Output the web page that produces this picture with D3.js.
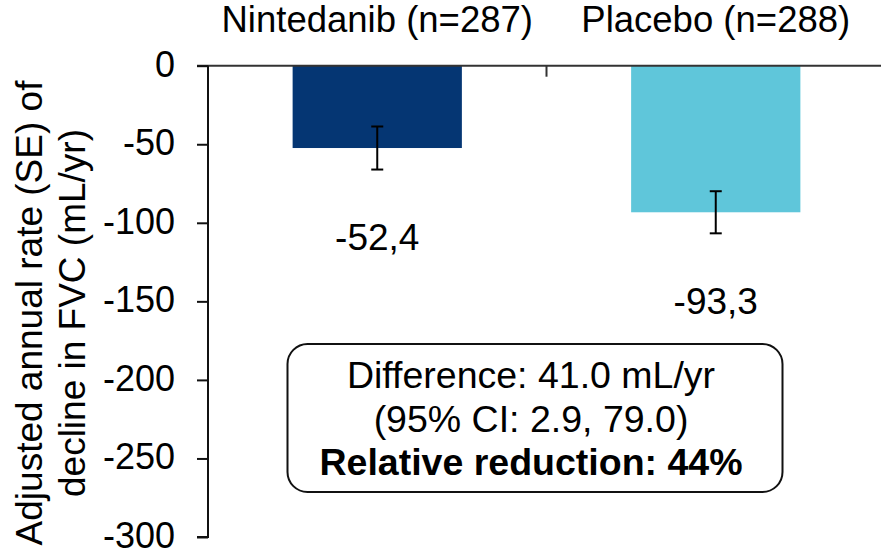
<!DOCTYPE html>
<html>
<head>
<meta charset="utf-8">
<script src="https://cdn.jsdelivr.net/npm/d3@7/dist/d3.min.js"></script>
<style>
  html, body { margin: 0; padding: 0; background: #fff; }
  svg { display: block; font-family: "Liberation Sans", Arial, sans-serif; }
</style>
</head>
<body>
<svg id="chart" width="881" height="553"></svg>
<script>
// Treatment groups and the adjusted annual rate of FVC decline (mL/yr)
const categories = ["Nintedanib (n=287)", "Placebo (n=288)"];
const rates = [-52.4, -93.3];
const standardErrors = [13.7, 13.4];
const rateLabels = ["-52,4", "-93,3"];
const barColors = ["#053673", "#5fc6da"];

// Y axis ticks
const yTicks = [0, -50, -100, -150, -200, -250, -300];
const yTitleLines = ["Adjusted annual rate (SE) of", "decline in FVC (mL/yr)"];

// Summary box text
const noteLines = ["Difference: 41.0 mL/yr", "(95% CI: 2.9, 79.0)", "Relative reduction: 44%"];

const svg = d3.select("#chart");

const x = d3.scaleBand()
  .domain(categories)
  .range([208, 885])
  .paddingInner(0.5)
  .paddingOuter(0.25);

const y = d3.scaleLinear()
  .domain([-300, 0])
  .range([537, 65.7]);

const data = categories.map((c, i) => ({
  cat: c, value: rates[i], se: standardErrors[i], label: rateLabels[i], color: barColors[i]
}));

// Bars hang down from zero
svg.append("g").selectAll("rect")
  .data(data)
  .join("rect")
  .attr("x", d => x(d.cat))
  .attr("width", x.bandwidth())
  .attr("y", y(0))
  .attr("height", d => y(d.value) - y(0))
  .attr("fill", d => d.color);

// Zero baseline running across the plot
svg.append("line")
  .attr("x1", 197).attr("x2", 881)
  .attr("y1", y(0)).attr("y2", y(0))
  .attr("stroke", "#333").attr("stroke-width", 2);

// Category divider tick on the baseline
const gap = x.step() - x.bandwidth();
svg.append("g").selectAll("line")
  .data(categories.slice(1))
  .join("line")
  .attr("x1", d => x(d) - gap / 2)
  .attr("x2", d => x(d) - gap / 2)
  .attr("y1", y(0)).attr("y2", y(0) + 11)
  .attr("stroke", "#333").attr("stroke-width", 2);

// Y axis
const yAxis = svg.append("g")
  .attr("transform", "translate(208,0)")
  .call(d3.axisLeft(y).tickValues(yTicks).tickSize(11).tickPadding(22).tickFormat(d3.format("d")));
yAxis.select(".domain").attr("stroke", "#111").attr("stroke-width", 2).attr("d", `M-11,${y(-300)}H0V${y(0)}`);
yAxis.selectAll(".tick line").attr("stroke", "#111").attr("stroke-width", 2);
yAxis.selectAll(".tick text")
  .attr("font-size", 36)
  .attr("dy", "0.29em")
  .attr("fill", "#000")
  .attr("font-family", "Liberation Sans, Arial, sans-serif")
  .text(d => d === 0 ? "0" : "-" + Math.abs(d));

// Error bars (± SE)
const capHalf = 6;
const eb = svg.append("g").attr("stroke", "#000").attr("stroke-width", 2);
data.forEach(d => {
  const cx = x(d.cat) + x.bandwidth() / 2;
  const top = y(d.value + d.se), bot = y(d.value - d.se);
  eb.append("line").attr("x1", cx).attr("x2", cx).attr("y1", top).attr("y2", bot);
  eb.append("line").attr("x1", cx - capHalf).attr("x2", cx + capHalf).attr("y1", top).attr("y2", top);
  eb.append("line").attr("x1", cx - capHalf).attr("x2", cx + capHalf).attr("y1", bot).attr("y2", bot);
});

// Value labels below each bar
svg.append("g").selectAll("text")
  .data(data)
  .join("text")
  .attr("x", d => x(d.cat) + x.bandwidth() / 2)
  .attr("y", d => y(d.value) + 102)
  .attr("text-anchor", "middle")
  .attr("font-size", 37)
  .attr("fill", "#000")
  .text(d => d.label);

// Group names above the plot
svg.append("g").selectAll("text")
  .data(categories)
  .join("text")
  .attr("x", d => x(d) + x.bandwidth() / 2)
  .attr("y", 32)
  .attr("text-anchor", "middle")
  .attr("font-size", 36.5)
  .attr("fill", "#000")
  .text(d => d);

// Y axis title, two rotated lines
const yTitle = svg.append("text")
  .attr("transform", "translate(0,313) rotate(-90)")
  .attr("text-anchor", "middle")
  .attr("font-size", 37)
  .attr("fill", "#000");
yTitleLines.forEach((t, i) => {
  yTitle.append("tspan").attr("x", 0).attr("y", 42 + i * 43).text(t);
});

// Summary box
svg.append("rect")
  .attr("x", 287.5).attr("y", 344)
  .attr("width", 495).attr("height", 148)
  .attr("rx", 20).attr("ry", 20)
  .attr("fill", "#fff").attr("stroke", "#111").attr("stroke-width", 2);

svg.append("g").selectAll("text")
  .data(noteLines)
  .join("text")
  .attr("x", 531)
  .attr("y", (d, i) => 388 + i * 43.5)
  .attr("text-anchor", "middle")
  .attr("font-size", 37.5)
  .attr("font-weight", (d, i) => i === 2 ? "bold" : "normal")
  .attr("fill", "#000")
  .text(d => d);
</script>
</body>
</html>
